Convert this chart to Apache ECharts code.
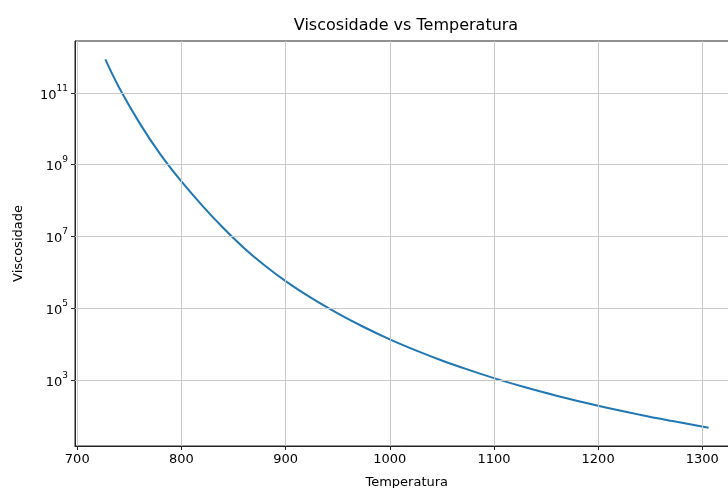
<!DOCTYPE html>
<html>
<head>
<meta charset="utf-8">
<script src="https://cdn.jsdelivr.net/npm/echarts@6/dist/echarts.min.js"></script>
<style>
  html, body { margin: 0; padding: 0; background: #fff; }
  #chart { width: 728px; height: 488px; }
</style>
</head>
<body>
<div id="chart"></div>
<script>
// Temperature samples and viscosity readings along the curve
const temperatura = [727, 740, 760, 780, 800, 820, 840, 860, 880, 900, 925, 950, 975,
  1000, 1025, 1050, 1075, 1100, 1130, 1160, 1200, 1240, 1270, 1306];
const viscosidade = [8.5e11, 1.43e11, 1.41e10, 1.9e9, 3.39e8, 7.24e7, 1.74e7, 4.79e6, 1.55e6,
  5.7e5, 1.9e5, 7.2e4, 3.0e4, 1.36e4, 6.7e3, 3.5e3, 1.95e3, 1.13e3, 628, 366, 192, 108, 73, 47];

// Axis ticks
const xTicks = [700, 800, 900, 1000, 1100, 1200, 1300];
const yTicks = [1e3, 1e5, 1e7, 1e9, 1e11];

const FONT = 'DejaVu Sans';
const chart = echarts.init(document.getElementById('chart'), null, { renderer: 'canvas' });

const gridColor = '#c9c9c9';

chart.setOption({
  animation: false,
  backgroundColor: '#fff',
  textStyle: { fontFamily: FONT },
  graphic: [{
    type: 'text',
    x: 406, y: 18,
    style: {
      text: 'Viscosidade vs Temperatura',
      font: '16px "DejaVu Sans"',
      fill: '#000',
      textAlign: 'center'
    }
  }],
  grid: {
    left: 75, top: 41, bottom: 42, width: 663.5,
    outerBoundsMode: 'none',
    containLabel: false,
    show: true, borderColor: '#222', borderWidth: 1, backgroundColor: 'transparent'
  },
  xAxis: {
    type: 'value',
    min: 697.85, max: 1334.75,
    name: 'Temperatura',
    nameLocation: 'middle',
    nameGap: 30,
    nameTextStyle: { fontSize: 13, color: '#000', fontFamily: FONT },
    axisLine: { show: true, onZero: false, lineStyle: { color: '#222', width: 1 } },
    axisTick: { show: true, length: 4, lineStyle: { color: '#222' }, customValues: xTicks },
    axisLabel: {
      fontSize: 13, color: '#000', margin: 7, fontFamily: FONT, customValues: xTicks,
      formatter: v => String(v)
    },
    splitLine: { show: false }
  },
  yAxis: {
    type: 'log',
    logBase: 10,
    min: Math.pow(10, 1.162), max: Math.pow(10, 12.443),
    name: 'Viscosidade',
    nameLocation: 'middle',
    nameGap: 50,
    nameTextStyle: { fontSize: 13, color: '#000', fontFamily: FONT },
    axisLine: { show: true, lineStyle: { color: '#222', width: 1 } },
    axisTick: { show: true, length: 4, lineStyle: { color: '#222' }, customValues: yTicks },
    axisLabel: {
      margin: 7,
      customValues: yTicks,
      formatter: function (v) {
        const e = Math.round(Math.log10(v));
        return '{b|10}{s|' + e + '}';
      },
      rich: {
        b: { fontSize: 13, color: '#000', fontFamily: FONT, lineHeight: 18, verticalAlign: 'bottom' },
        s: { fontSize: 9, color: '#000', fontFamily: FONT, lineHeight: 18, verticalAlign: 'top' }
      }
    },
    splitLine: { show: false }
  },
  series: [
    {
      // grid lines drawn under the curve
      type: 'line',
      data: [],
      silent: true,
      z: 1,
      markLine: {
        silent: true,
        symbol: 'none',
        label: { show: false },
        lineStyle: { color: gridColor, width: 1, type: 'solid' },
        data: xTicks.map(v => ({ xAxis: v })).concat(yTicks.map(v => ({ yAxis: v })))
      }
    },
    {
      name: 'Viscosidade',
      type: 'line',
      z: 3,
      data: temperatura.map((t, i) => [t, viscosidade[i]]),
      showSymbol: false,
      smooth: 0.4,
      lineStyle: { color: '#1f77b4', width: 2 }
    }
  ]
});
</script>
</body>
</html>
